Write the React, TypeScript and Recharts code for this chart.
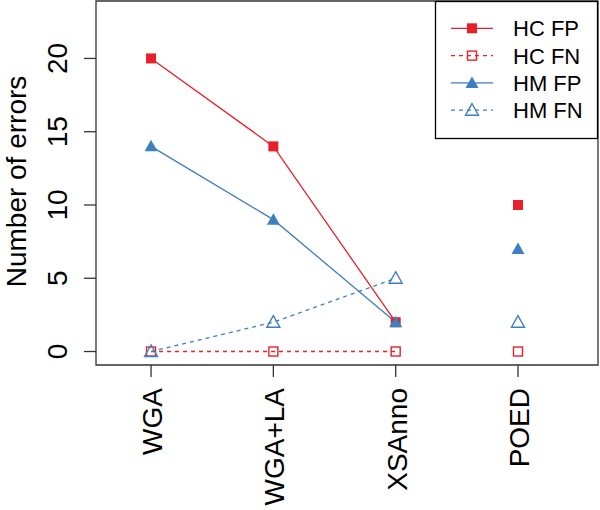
import React from "react";
import { ComposedChart, Line, XAxis, YAxis, ReferenceArea } from "recharts";

const categories = ["WGA", "WGA+LA", "XSAnno", "POED"];
const hcFP = [20, 14, 2, 10];
const hcFN = [0, 0, 0, 0];
const hmFP = [14, 9, 2, 7];
const hmFN = [0, 2, 5, 2];
const yTicks = [0, 5, 10, 15, 20];
const connectedCount = 3; // first three methods are joined by lines
const seriesNames = ["HC FP", "HC FN", "HM FP", "HM FN"];
const yLabel = "Number of errors";

const RED = "#E8202A";
const BLUE = "#3F7FBF";
const FONT = "'Liberation Sans', Arial, Helvetica, sans-serif";

type Kind = "sqFill" | "sqOpen" | "triFill" | "triOpen";

const seriesDefs: { key: string; values: number[]; color: string; dash?: string; kind: Kind; name: string }[] = [
  { key: "hcFP", values: hcFP, color: RED, kind: "sqFill", name: seriesNames[0] },
  { key: "hcFN", values: hcFN, color: RED, dash: "4 4", kind: "sqOpen", name: seriesNames[1] },
  { key: "hmFP", values: hmFP, color: BLUE, kind: "triFill", name: seriesNames[2] },
  { key: "hmFN", values: hmFN, color: BLUE, dash: "4 4", kind: "triOpen", name: seriesNames[3] },
];

const data = categories.map((c, i) => {
  const row: any = { x: i + 1, name: c };
  seriesDefs.forEach((s) => {
    row[s.key + "L"] = i < connectedCount ? s.values[i] : null;
    row[s.key + "P"] = i >= connectedCount ? s.values[i] : null;
  });
  return row;
});

function Marker({ cx, cy, kind, color }: { cx: number; cy: number; kind: Kind; color: string }) {
  if (kind === "sqFill") return <rect x={cx - 5} y={cy - 5} width={10} height={10} fill={color} />;
  if (kind === "sqOpen")
    return <rect x={cx - 4.5} y={cy - 4.5} width={9} height={9} fill="none" stroke={color} strokeWidth={1.4} />;
  const pts = `${cx},${cy - 6.5} ${cx - 6.5},${cy + 5} ${cx + 6.5},${cy + 5}`;
  if (kind === "triFill") return <polygon points={pts} fill={color} />;
  return <polygon points={pts} fill="none" stroke={color} strokeWidth={1.4} />;
}

const makeDot = (kind: Kind, color: string) => (props: any) => {
  const { cx, cy, index, value } = props;
  if (cx == null || cy == null || value == null || Number.isNaN(cy)) return <g key={index} />;
  return (
    <g key={index}>
      <Marker cx={cx} cy={cy} kind={kind} color={color} />
    </g>
  );
};

const YTick = (props: any) => {
  const { y, payload } = props;
  return (
    <text
      x={67}
      y={y}
      transform={`rotate(-90, 67, ${y})`}
      textAnchor="middle"
      fontSize={28}
      fontFamily={FONT}
      fill="#000"
    >
      {payload.value}
    </text>
  );
};

const XTick = (props: any) => {
  const { x, payload } = props;
  const label = categories[payload.value - 1];
  const tx = x + 11;
  return (
    <text
      x={tx}
      y={388}
      transform={`rotate(-90, ${tx}, 388)`}
      textAnchor="end"
      fontSize={28}
      fontFamily={FONT}
      fill="#000"
    >
      {label}
    </text>
  );
};

export default function App() {
  return (
    <div style={{ position: "absolute", left: 0, top: 0, width: 600, height: 510, background: "#fff" }}>
      <ComposedChart width={600} height={510} data={data} margin={{ top: 1, right: 2, left: 0, bottom: 0 }}>
        <XAxis
          type="number"
          dataKey="x"
          domain={[0.55, 4.654]}
          ticks={[1, 2, 3, 4]}
          allowDataOverflow
          height={145}
          axisLine={false}
          tickLine={{ stroke: "#333", strokeWidth: 1.3 }}
          tickSize={12}
          tick={<XTick />}
        />
        <YAxis
          type="number"
          domain={[-0.92, 23.92]}
          ticks={yTicks}
          allowDataOverflow
          width={96}
          axisLine={false}
          tickLine={{ stroke: "#333", strokeWidth: 1.3 }}
          tickSize={12}
          tick={<YTick />}
        />
        <ReferenceArea
          x1={0.55}
          x2={4.654}
          y1={-0.92}
          y2={23.92}
          fill="none"
          fillOpacity={0}
          stroke="#333"
          strokeWidth={1.3}
          ifOverflow="visible"
        />
        {seriesDefs.map((s) => (
          <Line
            key={s.key + "L"}
            dataKey={s.key + "L"}
            stroke={s.color}
            strokeWidth={1.3}
            strokeDasharray={s.dash}
            dot={makeDot(s.kind, s.color)}
            activeDot={false}
            isAnimationActive={false}
            connectNulls={false}
            type="linear"
          />
        ))}
        {seriesDefs.map((s) => (
          <Line
            key={s.key + "P"}
            dataKey={s.key + "P"}
            stroke="none"
            dot={makeDot(s.kind, s.color)}
            activeDot={false}
            isAnimationActive={false}
            connectNulls={false}
            type="linear"
          />
        ))}
      </ComposedChart>
      <svg
        width={600}
        height={510}
        style={{ position: "absolute", left: 0, top: 0, pointerEvents: "none" }}
      >
        <text
          x={26}
          y={181.5}
          transform="rotate(-90, 26, 181.5)"
          textAnchor="middle"
          fontSize={28}
          fontFamily={FONT}
          fill="#000"
        >
          {yLabel}
        </text>
        <rect x={435.5} y={1.5} width={162} height={137} fill="#fff" stroke="#000" strokeWidth={1.3} />
        {seriesDefs.map((s, i) => {
          const cy = 28.3 + i * 27.3;
          return (
            <g key={s.key}>
              <line x1={451} x2={493} y1={cy} y2={cy} stroke={s.color} strokeWidth={1.3} strokeDasharray={s.dash} />
              <Marker cx={472} cy={cy} kind={s.kind} color={s.color} />
              <text x={513} y={cy + 8} fontSize={22} fontFamily={FONT} fill="#000">
                {s.name}
              </text>
            </g>
          );
        })}
      </svg>
    </div>
  );
}
